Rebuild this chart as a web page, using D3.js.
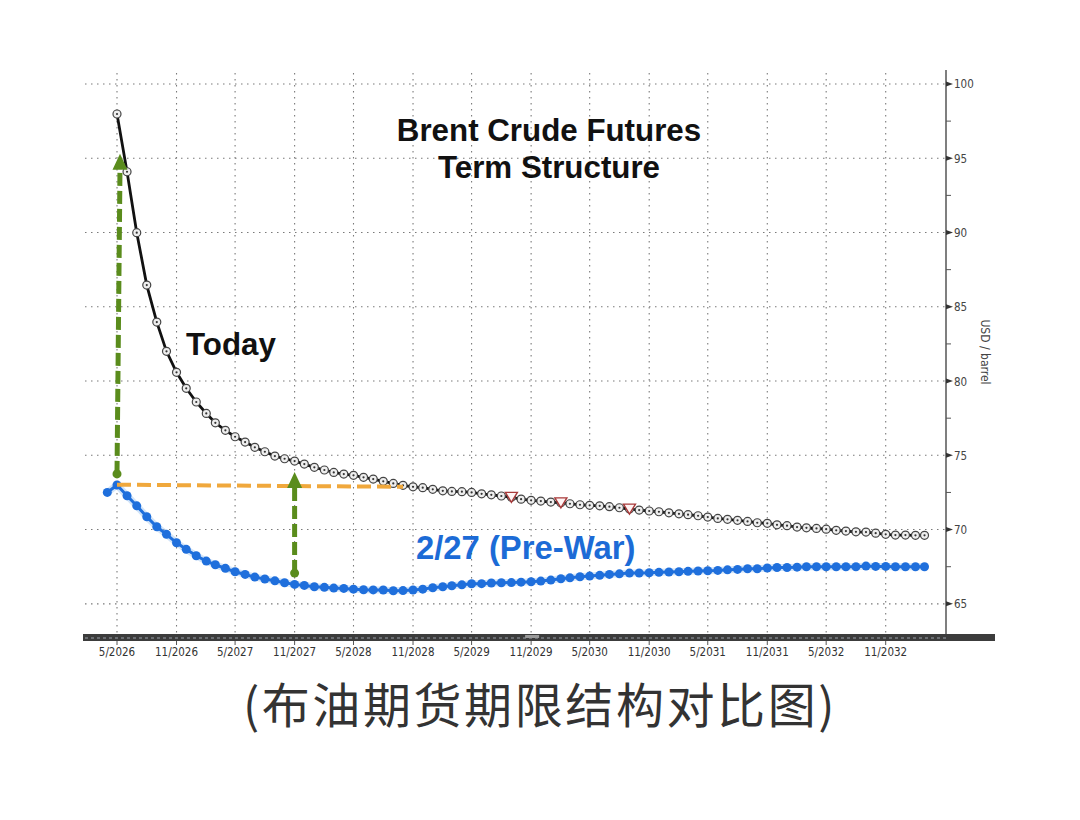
<!DOCTYPE html>
<html>
<head>
<meta charset="utf-8">
<script src="https://cdn.jsdelivr.net/npm/d3@7"></script>
<style>
  html, body { margin: 0; padding: 0; background: #ffffff; }
  svg { display: block; }
</style>
</head>
<body>
<svg id="chart" width="1080" height="820"></svg>
<script>
// ---------------- DATA ----------------
// "Today" curve: monthly contracts starting 5/2026
const todayStart = [2026, 4]; // year, monthIndex (May)
const todayValues = [
  97.98, 94.09, 89.99, 86.46, 83.97, 82.00, 80.59, 79.51, 78.59, 77.82,
  77.19, 76.68, 76.25, 75.89, 75.54, 75.24, 74.95, 74.77, 74.61, 74.41,
  74.19, 74.01, 73.85, 73.74, 73.65, 73.52, 73.40, 73.25, 73.11, 72.98,
  72.88, 72.82, 72.71, 72.61, 72.57, 72.55, 72.50, 72.41, 72.34, 72.26,
  72.17, 72.05, 71.97, 71.92, 71.85, 71.80, 71.74, 71.67, 71.63, 71.60,
  71.54, 71.47, 71.38, 71.31, 71.25, 71.20, 71.13, 71.06, 71.00, 70.93,
  70.84, 70.75, 70.69, 70.62, 70.55, 70.46, 70.42, 70.32, 70.26, 70.17,
  70.12, 70.08, 70.03, 69.95, 69.90, 69.85, 69.83, 69.76, 69.68, 69.63,
  69.63, 69.61, 69.61
];
// "2/27 (Pre-War)" curve: monthly contracts starting 4/2026
const preWarStart = [2026, 3];
const preWarValues = [
  72.50, 73.00, 72.28, 71.60, 70.86, 70.19, 69.68, 69.11, 68.67, 68.24,
  67.88, 67.63, 67.39, 67.16, 66.98, 66.80, 66.67, 66.55, 66.42, 66.31,
  66.24, 66.15, 66.11, 66.06, 66.04, 65.99, 65.95, 65.94, 65.93, 65.88,
  65.89, 65.93, 65.99, 66.08, 66.15, 66.22, 66.28, 66.35, 66.36, 66.40,
  66.42, 66.43, 66.46, 66.49, 66.53, 66.60, 66.69, 66.75, 66.82, 66.87,
  66.92, 66.98, 67.02, 67.07, 67.08, 67.09, 67.12, 67.14, 67.16, 67.19,
  67.21, 67.23, 67.25, 67.29, 67.32, 67.36, 67.36, 67.41, 67.45, 67.45,
  67.47, 67.50, 67.50, 67.50, 67.50, 67.50, 67.50, 67.54, 67.52, 67.52,
  67.50, 67.50, 67.50, 67.50
];
// red hollow triangle markers on the Today curve (month offsets from 5/2026)
const triangleMonths = [40, 45, 52];

// axis ticks
const xTickLabels = ["5/2026","11/2026","5/2027","11/2027","5/2028","11/2028","5/2029",
                     "11/2029","5/2030","11/2030","5/2031","11/2031","5/2032","11/2032"];
const yTickValues = [65, 70, 75, 80, 85, 90, 95, 100];
const yMinorValues = [67.5, 72.5, 77.5, 82.5, 87.5, 92.5, 97.5];

// annotations (value-based)
const arrowToday = { date: [2026, 4], from: 73.75, to: 95.3, lean: 3 };
const arrowMid   = { date: [2027, 10], from: 67.07, to: 73.87, lean: 0 };
const orangeLine = { from: [2026, 4], to: [2028, 9], value: 72.95 };

// ---------------- HELPERS ----------------
const parseLabel = s => { const [m, yy] = s.split("/").map(Number); return new Date(yy, m - 1, 1); };
const monthDate = (start, i) => new Date(start[0], start[1] + i, 1);

const todayData = todayValues.map((v, i) => ({ date: monthDate(todayStart, i), value: v }));
const preWarData = preWarValues.map((v, i) => ({ date: monthDate(preWarStart, i), value: v }));

// ---------------- SCALES ----------------
const plotLeft = 85, plotRight = 946, plotTop = 73, plotBottom = 638;
const x = d3.scaleTime()
  .domain([parseLabel("5/2026"), parseLabel("11/2032")])
  .range([117, 885.7]);
const y = d3.scaleLinear()
  .domain([62.7, 100.74])
  .range([plotBottom, plotTop]);

const svg = d3.select("#chart");

// ---------------- GRID ----------------
const grid = svg.append("g").attr("class", "grid");
grid.selectAll("line.h").data(yTickValues).join("line")
  .attr("x1", plotLeft).attr("x2", plotRight)
  .attr("y1", d => y(d)).attr("y2", d => y(d))
  .attr("stroke", "#7a7a7a").attr("stroke-width", 1.1)
  .attr("stroke-dasharray", "1.5,4.5");
grid.selectAll("line.v").data(xTickLabels).join("line")
  .attr("x1", d => x(parseLabel(d))).attr("x2", d => x(parseLabel(d)))
  .attr("y1", plotTop).attr("y2", plotBottom - 4)
  .attr("stroke", "#7a7a7a").attr("stroke-width", 1.1)
  .attr("stroke-dasharray", "1.5,4.5");

// ---------------- RIGHT AXIS ----------------
const yAxisG = svg.append("g").attr("transform", `translate(${plotRight},0)`);
yAxisG.append("line").attr("x1", 0).attr("x2", 0).attr("y1", 70).attr("y2", plotBottom)
  .attr("stroke", "#555").attr("stroke-width", 1.5);
yAxisG.selectAll("path.tick").data(yTickValues).join("path")
  .attr("d", d => `M0,${y(d) - 2.5}L7,${y(d)}L0,${y(d) + 2.5}Z`)
  .attr("fill", "#333");
yAxisG.selectAll("line.minor").data(yMinorValues).join("line")
  .attr("x1", 0).attr("x2", 5)
  .attr("y1", d => y(d)).attr("y2", d => y(d))
  .attr("stroke", "#555").attr("stroke-width", 1);
yAxisG.selectAll("text").data(yTickValues).join("text")
  .attr("x", 8).attr("y", d => y(d) + 4.5)
  .attr("font-family", "'DejaVu Sans Condensed', 'DejaVu Sans', sans-serif")
  .attr("font-stretch", "condensed")
  .attr("font-size", 11.5).attr("fill", "#444")
  .text(d => d);
svg.append("text")
  .attr("transform", `translate(981,352) rotate(90)`)
  .attr("text-anchor", "middle")
  .attr("font-family", "'DejaVu Sans Condensed', 'DejaVu Sans', sans-serif")
  .attr("font-size", 12).attr("fill", "#444")
  .text("USD / barrel");

// ---------------- BOTTOM AXIS BAR ----------------
svg.append("rect").attr("x", plotLeft - 2).attr("y", 634).attr("width", 995 - plotLeft + 2).attr("height", 7)
  .attr("fill", "#3c3c3c");
svg.append("line").attr("x1", plotLeft).attr("x2", plotRight).attr("y1", 638).attr("y2", 638)
  .attr("stroke", "#9aa0a8").attr("stroke-width", 1).attr("stroke-dasharray", "3,3");
svg.append("rect").attr("x", x(parseLabel("11/2029")) - 6).attr("y", 635).attr("width", 14).attr("height", 3)
  .attr("fill", "#9a9a9a");

const xAxisG = svg.append("g");
xAxisG.selectAll("line").data(xTickLabels).join("line")
  .attr("x1", d => x(parseLabel(d))).attr("x2", d => x(parseLabel(d)))
  .attr("y1", 641).attr("y2", 645)
  .attr("stroke", "#555").attr("stroke-width", 1);
xAxisG.selectAll("text").data(xTickLabels).join("text")
  .attr("x", d => x(parseLabel(d))).attr("y", 656)
  .attr("text-anchor", "middle")
  .attr("font-family", "'DejaVu Sans Condensed', 'DejaVu Sans', sans-serif")
  .attr("font-stretch", "condensed")
  .attr("font-size", 11.5).attr("fill", "#333")
  .text(d => d);

// ---------------- SERIES ----------------
const line = d3.line().x(d => x(d.date)).y(d => y(d.value));

// Pre-war (blue)
svg.append("path").datum(preWarData)
  .attr("d", line).attr("fill", "none")
  .attr("stroke", "#9cc4f0").attr("stroke-width", 7).attr("opacity", 0.45);
svg.append("path").datum(preWarData)
  .attr("d", line).attr("fill", "none")
  .attr("stroke", "#1f6fdc").attr("stroke-width", 3);
svg.append("g").selectAll("circle").data(preWarData).join("circle")
  .attr("cx", d => x(d.date)).attr("cy", d => y(d.value)).attr("r", 4.5)
  .attr("fill", "#1f6fdc");

// Today (black)
svg.append("path").datum(todayData)
  .attr("d", line).attr("fill", "none")
  .attr("stroke", "#111").attr("stroke-width", 2.8);
const tg = svg.append("g");
tg.selectAll("circle.o").data(todayData).join("circle")
  .attr("cx", d => x(d.date)).attr("cy", d => y(d.value)).attr("r", 4)
  .attr("fill", "#eeeeee").attr("stroke", "#444").attr("stroke-width", 1.2);
tg.selectAll("circle.c").data(todayData).join("circle")
  .attr("cx", d => x(d.date)).attr("cy", d => y(d.value)).attr("r", 1.1)
  .attr("fill", "#333");

// red triangles
svg.append("g").selectAll("path").data(triangleMonths.map(i => todayData[i])).join("path")
  .attr("d", d => { const cx = x(d.date), cy = y(d.value);
    return `M${cx - 6},${cy - 5}L${cx + 6},${cy - 5}L${cx},${cy + 5}Z`; })
  .attr("fill", "#fff4f4").attr("stroke", "#a83a3a").attr("stroke-width", 1.4);

// ---------------- ANNOTATIONS ----------------
const green = "#5a8c1c";
function drawArrow(a) {
  const ax = x(monthDate(a.date, 0));
  const tx = ax + a.lean;
  const y0 = y(a.from), y1 = y(a.to);
  svg.append("line").attr("x1", ax).attr("x2", tx)
    .attr("y1", y0).attr("y2", y1 + 14)
    .attr("stroke", green).attr("stroke-width", 5).attr("stroke-dasharray", "13,5");
  svg.append("path")
    .attr("d", `M${tx},${y1}L${tx + 7.5},${y1 + 16}L${tx - 7.5},${y1 + 16}Z`)
    .attr("fill", green);
  svg.append("circle").attr("cx", ax).attr("cy", y0).attr("r", 4.5).attr("fill", green);
}

// orange dashed line
svg.append("line")
  .attr("x1", x(monthDate(orangeLine.from, 0))).attr("x2", x(monthDate(orangeLine.to, 0)))
  .attr("y1", y(orangeLine.value + 0.07)).attr("y2", y(orangeLine.value - 0.07))
  .attr("stroke", "#f0a83c").attr("stroke-width", 4).attr("stroke-dasharray", "14,6");

drawArrow(arrowToday);
drawArrow(arrowMid);

// ---------------- TEXT ----------------
const titleFont = "'Liberation Sans', Arial, Helvetica, sans-serif";
svg.append("text").attr("x", 549).attr("y", 141).attr("text-anchor", "middle")
  .attr("font-family", titleFont).attr("font-weight", "bold").attr("font-size", 31.3)
  .attr("fill", "#111").text("Brent Crude Futures");
svg.append("text").attr("x", 549).attr("y", 178).attr("text-anchor", "middle")
  .attr("font-family", titleFont).attr("font-weight", "bold").attr("font-size", 31.3)
  .attr("fill", "#111").text("Term Structure");
svg.append("text").attr("x", 186).attr("y", 355)
  .attr("font-family", titleFont).attr("font-weight", "bold").attr("font-size", 31.3)
  .attr("fill", "#111").text("Today");
svg.append("text").attr("x", 416).attr("y", 559)
  .attr("font-family", titleFont).attr("font-weight", "bold").attr("font-size", 32.8)
  .attr("fill", "#1c6bd6").text("2/27 (Pre-War)");

svg.append("text").attr("x", 540).attr("y", 723).attr("text-anchor", "middle")
  .attr("font-family", "'Noto Sans CJK SC', sans-serif").attr("font-size", 48)
  .attr("letter-spacing", 2.6)
  .attr("fill", "#333").text("(布油期货期限结构对比图)");
</script>
</body>
</html>
